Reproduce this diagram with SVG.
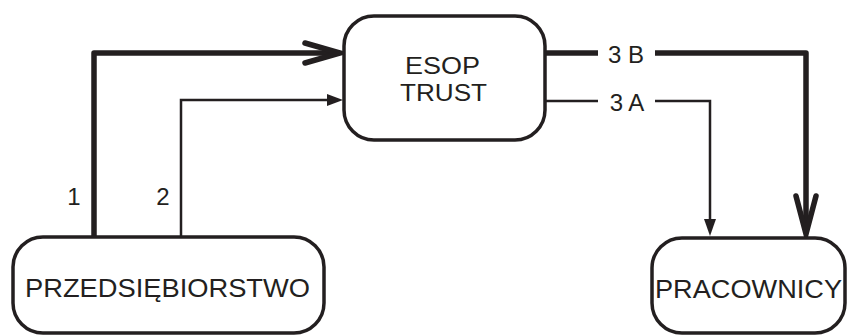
<svg xmlns="http://www.w3.org/2000/svg" width="847" height="335" viewBox="0 0 847 335">
<style>
.box{fill:#fff;stroke:#231f20;stroke-width:3.5}
.t{font-family:"Liberation Sans",Arial,sans-serif;fill:#231f20}
.thick{fill:none;stroke:#231f20;stroke-width:5.5;stroke-linejoin:round}
.thin{fill:none;stroke:#231f20;stroke-width:2.5}
.chev{fill:none;stroke:#231f20;stroke-width:5.5;stroke-linecap:round;stroke-linejoin:miter}
.tri{fill:#231f20}
</style>
<g id="connectors">
<path class="thick" d="M94,237 V53 H338"/>
<path class="chev" d="M305,43 L340,53 L305,63"/>
<path class="thin" d="M181,237 V100 H330"/>
<path class="tri" d="M327,94 L343,100 L327,106 Z"/>
<path class="thick" d="M545,53 H598"/>
<path class="thick" d="M655,53 H806 V232"/>
<path class="chev" d="M796,196 L806,234 L816,196"/>
<path class="thin" d="M545,101 H598"/>
<path class="thin" d="M655,101 H710 V222"/>
<path class="tri" d="M704,219 L710,236 L716,219 Z"/>
<text class="t" x="626" y="63" font-size="24" text-anchor="middle">3 B</text>
<text class="t" x="627" y="111" font-size="24" text-anchor="middle">3 A</text>
<text class="t" x="74" y="205" font-size="24" text-anchor="middle">1</text>
<text class="t" x="163" y="205" font-size="24" text-anchor="middle">2</text>
</g>
<g id="esop">
<rect class="box" x="344" y="16" width="201" height="124" rx="30"/>
<text class="t" x="405" y="74" font-size="24" textLength="75" lengthAdjust="spacingAndGlyphs">ESOP</text>
<text class="t" x="400" y="101" font-size="24" textLength="87" lengthAdjust="spacingAndGlyphs">TRUST</text>
</g>
<g id="przedsiebiorstwo">
<rect class="box" x="13" y="237" width="311" height="96" rx="30"/>
<text class="t" x="25" y="297" font-size="26" textLength="285" lengthAdjust="spacingAndGlyphs">PRZEDSIĘBIORSTWO</text>
</g>
<g id="pracownicy">
<rect class="box" x="652" y="238" width="193" height="95" rx="30"/>
<text class="t" x="655" y="298" font-size="26" textLength="187" lengthAdjust="spacingAndGlyphs">PRACOWNICY</text>
</g>
</svg>
